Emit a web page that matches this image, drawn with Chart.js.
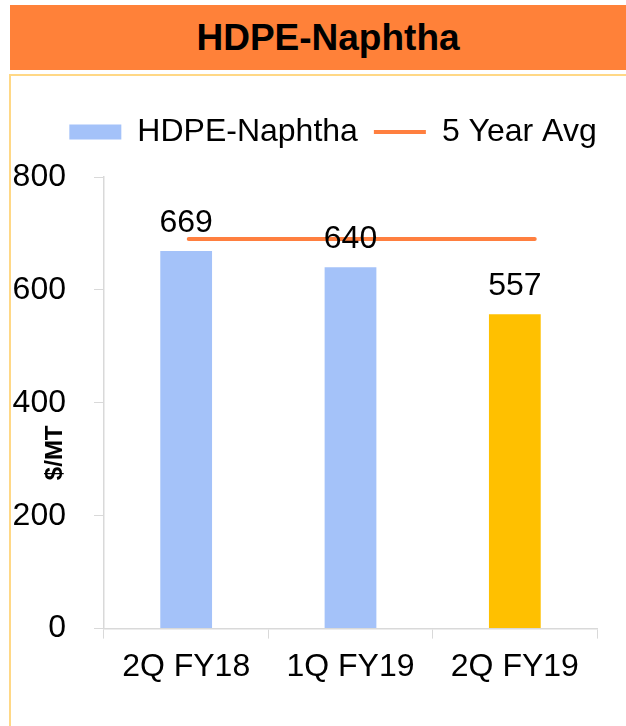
<!DOCTYPE html>
<html lang="en">
<head>
    <meta charset="UTF-8">
    <title>HDPE-Naphtha</title>
    <script src="https://cdn.jsdelivr.net/npm/chart.js"></script>
    <style>
        html, body { margin: 0; padding: 0; background: #fff; overflow: hidden; }
        body { width: 626px; height: 726px; position: relative; font-family: 'Liberation Sans', Arial, sans-serif; }
        .header {
            position: absolute; left: 10px; top: 5px; width: 636px; height: 65px;
            background: #FF8139; color: #000; font-weight: bold; font-size: 37px;
            line-height: 65px; text-align: center;
        }
        .box {
            position: absolute; left: 9px; top: 74px; width: 646px; height: 700px;
            border: 2px solid #FFD886; box-sizing: border-box;
        }
        .chart-wrap { position: absolute; left: 10px; top: 75px; width: 646px; height: 651px; }
    </style>
</head>
<body>
    <div class="header">HDPE-Naphtha</div>
    <div class="box"></div>
    <div class="chart-wrap"><canvas id="chart"></canvas></div>

    <script>
        // data
        const categories = ['2Q FY18', '1Q FY19', '2Q FY19'];
        const spreadValues = [669, 640, 557];
        const avgValues = [690, 690, 690];
        const yTicks = [0, 200, 400, 600, 800];

        const barColors = ['#A4C2F9', '#A4C2F9', '#FFC000'];
        const fontFamily = "'Liberation Sans', Arial, sans-serif";

        // value labels above the bars
        const barLabels = {
            id: 'barLabels',
            afterDatasetsDraw(chart) {
                const ctx = chart.ctx;
                const meta = chart.getDatasetMeta(0);
                ctx.save();
                ctx.font = '32px ' + fontFamily;
                ctx.fillStyle = '#000';
                ctx.textAlign = 'center';
                ctx.textBaseline = 'alphabetic';
                meta.data.forEach((bar, i) => {
                    ctx.fillText(String(spreadValues[i]), bar.x, bar.y - 19);
                });
                ctx.restore();
            }
        };

        // y axis title sits inside the tick label column, like the original
        const yTitle = {
            id: 'yTitle',
            afterDraw(chart) {
                const ctx = chart.ctx;
                const area = chart.chartArea;
                ctx.save();
                ctx.translate(area.left - 49, (area.top + area.bottom) / 2 + 50);
                ctx.rotate(-Math.PI / 2);
                ctx.font = 'bold 24px ' + fontFamily;
                ctx.fillStyle = '#000';
                ctx.textAlign = 'center';
                ctx.textBaseline = 'middle';
                ctx.fillText('$/MT', 0, 0);
                ctx.restore();
            }
        };

        // extra room under the legend, and centre it on the whole canvas
        const legendGap = {
            id: 'legendGap',
            beforeInit(chart) {
                const fit = chart.legend.fit;
                chart.legend.fit = function () {
                    fit.bind(chart.legend)();
                    this.height += 19;
                };
            },
            afterLayout(chart) {
                chart.legend.left = 0;
                chart.legend.right = chart.width;
            }
        };

        function initChart() {
            const ctx = document.getElementById('chart').getContext('2d');
            new Chart(ctx, {
                type: 'bar',
                data: {
                    labels: categories,
                    datasets: [{
                        label: 'HDPE-Naphtha',
                        data: spreadValues,
                        backgroundColor: barColors,
                        borderWidth: 0,
                        pointStyle: 'rect',
                        grouped: false,
                        barPercentage: 0.315,
                        categoryPercentage: 1
                    }, {
                        type: 'line',
                        label: '5 Year Avg',
                        data: avgValues.map((v, i) => ({ x: i, y: v })),
                        xAxisID: 'x2',
                        borderColor: '#FF7F3F',
                        backgroundColor: '#FF7F3F',
                        borderWidth: 4,
                        borderCapStyle: 'round',
                        pointStyle: 'line',
                        pointRadius: 0,
                        pointHoverRadius: 0,
                        fill: false
                    }]
                },
                options: {
                    responsive: true,
                    maintainAspectRatio: false,
                    animation: false,
                    layout: { padding: { top: 25, right: 59, bottom: 31, left: 0 } },
                    plugins: {
                        legend: {
                            display: true,
                            position: 'top',
                            align: 'center',
                            labels: {
                                usePointStyle: true,
                                pointStyleWidth: 52,
                                boxHeight: 15,
                                padding: 16,
                                color: '#000',
                                font: { family: fontFamily, size: 32 }
                            }
                        },
                        tooltip: { enabled: false }
                    },
                    scales: {
                        x: {
                            offset: true,
                            grid: {
                                offset: true,
                                drawOnChartArea: false,
                                drawTicks: true,
                                tickLength: 10,
                                color: '#D9D9D9'
                            },
                            border: { color: '#D9D9D9', width: 1.5 },
                            ticks: {
                                color: '#000',
                                padding: 9,
                                font: { family: fontFamily, size: 32 }
                            }
                        },
                        x2: {
                            type: 'linear',
                            display: false,
                            offset: false,
                            grid: { offset: false },
                            bounds: 'data',
                            min: -0.49,
                            max: 2.36
                        },
                        y: {
                            min: yTicks[0],
                            max: yTicks[yTicks.length - 1],
                            afterBuildTicks(scale) {
                                scale.ticks = yTicks.map(v => ({ value: v }));
                            },
                            afterFit(scale) {
                                scale.width = 94;
                            },
                            grid: {
                                drawOnChartArea: false,
                                drawTicks: true,
                                tickLength: 10,
                                color: '#D9D9D9'
                            },
                            border: { color: '#D9D9D9', width: 1.5 },
                            ticks: {
                                color: '#000',
                                padding: 28,
                                font: { family: fontFamily, size: 32 }
                            }
                        }
                    }
                },
                plugins: [barLabels, yTitle, legendGap]
            });
        }

        document.addEventListener('DOMContentLoaded', initChart);
    </script>
</body>
</html>
